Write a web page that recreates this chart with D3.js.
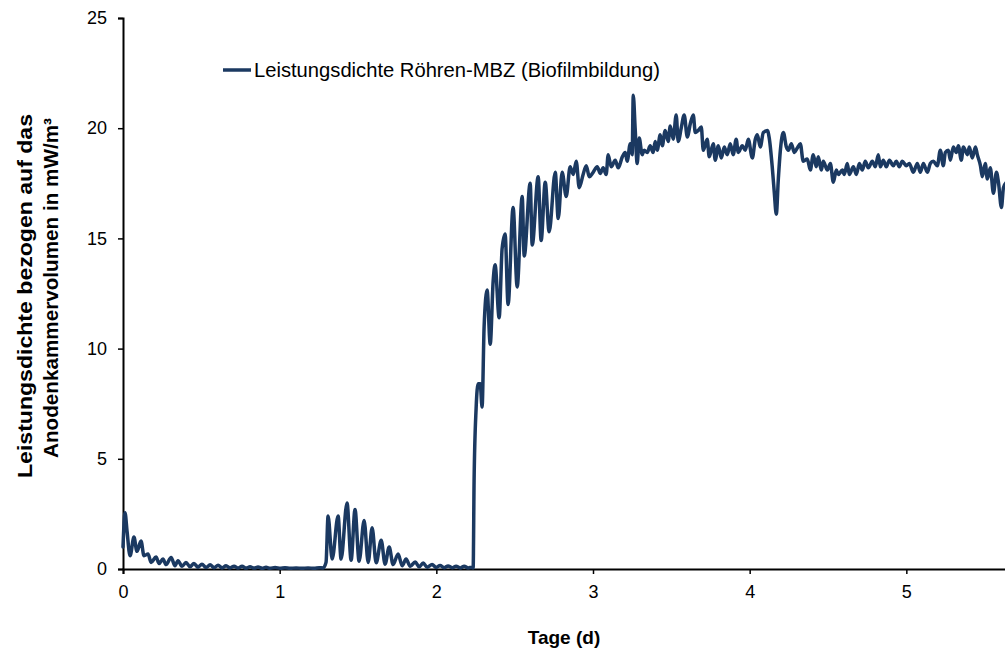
<!DOCTYPE html>
<html>
<head>
<meta charset="utf-8">
<script src="https://cdn.jsdelivr.net/npm/d3@7"></script>
<style>
  html, body { margin: 0; padding: 0; overflow: hidden; background: #fff; }
  svg { display: block; }
  text { font-family: "Liberation Sans", Arial, sans-serif; fill: #000; }
</style>
</head>
<body>
<svg id="chart" width="1005" height="650"></svg>
<script>
// Elapsed time in days
const days = [
  0.000, 0.013, 0.026, 0.045, 0.070, 0.089, 0.115, 0.134, 0.160, 0.179,
  0.211, 0.230, 0.255, 0.275, 0.307, 0.332, 0.351, 0.377, 0.402, 0.428,
  0.453, 0.479, 0.504, 0.530, 0.556, 0.581, 0.607, 0.632, 0.658, 0.683,
  0.709, 0.734, 0.760, 0.785, 0.811, 0.837, 0.862, 0.888, 0.913, 0.939,
  0.971, 1.003, 1.034, 1.066, 1.105, 1.143, 1.181, 1.220, 1.252, 1.277,
  1.296, 1.309, 1.335, 1.373, 1.392, 1.430, 1.456, 1.481, 1.507, 1.539,
  1.565, 1.590, 1.616, 1.648, 1.673, 1.699, 1.724, 1.756, 1.782, 1.807,
  1.833, 1.865, 1.890, 1.916, 1.941, 1.973, 1.999, 2.024, 2.050, 2.075,
  2.101, 2.126, 2.152, 2.178, 2.203, 2.229, 2.235,
  2.241, 2.254, 2.267, 2.280, 2.292, 2.305, 2.324, 2.344, 2.363, 2.375,
  2.401, 2.420, 2.439, 2.458, 2.490, 2.516, 2.548, 2.561, 2.599, 2.612,
  2.650, 2.669, 2.695, 2.720, 2.759, 2.778, 2.803, 2.829, 2.854, 2.874,
  2.893, 2.912, 2.937, 2.957, 2.976,
  3.001, 3.027, 3.046, 3.065, 3.084, 3.097, 3.116, 3.142, 3.161, 3.187,
  3.206, 3.218, 3.238, 3.250, 3.257, 3.269, 3.282, 3.295, 3.314, 3.327,
  3.346, 3.365, 3.384, 3.397, 3.410, 3.429, 3.442, 3.461, 3.480, 3.493,
  3.512, 3.531, 3.544, 3.563, 3.582, 3.602, 3.621, 3.640, 3.653, 3.672,
  3.691, 3.704, 3.729, 3.742, 3.768, 3.780, 3.800, 3.819, 3.838, 3.857,
  3.876, 3.895, 3.914, 3.927, 3.953, 3.972, 3.991,
  4.017, 4.036, 4.049, 4.068, 4.087, 4.113, 4.125, 4.144, 4.157, 4.170,
  4.183, 4.196, 4.215, 4.234, 4.247, 4.266, 4.285, 4.304, 4.323, 4.342,
  4.368, 4.387, 4.406, 4.425, 4.438, 4.457, 4.470, 4.496, 4.515, 4.534,
  4.553, 4.566, 4.592, 4.604, 4.623, 4.636, 4.662, 4.681, 4.700, 4.719,
  4.738, 4.757, 4.783, 4.802, 4.821,
  4.834, 4.853, 4.872, 4.892, 4.917, 4.936, 4.955, 4.974, 5.000, 5.019,
  5.045, 5.070, 5.089, 5.109, 5.134, 5.153, 5.172, 5.198, 5.217, 5.236,
  5.249, 5.268, 5.281, 5.300, 5.319, 5.332, 5.351, 5.364, 5.390, 5.402,
  5.421, 5.441, 5.453, 5.473, 5.485, 5.504, 5.517, 5.536, 5.556, 5.575,
  5.588, 5.607, 5.620, 5.640
];

// Power density relative to anode chamber volume, mW/m³
const power = [
  1.00, 2.55, 1.70, 0.60, 1.45, 0.80, 1.27, 0.60, 0.68, 0.30,
  0.54, 0.25, 0.45, 0.20, 0.52, 0.15, 0.38, 0.12, 0.30, 0.10,
  0.25, 0.08, 0.22, 0.07, 0.19, 0.06, 0.17, 0.05, 0.15, 0.05,
  0.13, 0.04, 0.12, 0.04, 0.10, 0.04, 0.09, 0.03, 0.08, 0.03,
  0.07, 0.03, 0.06, 0.03, 0.05, 0.03, 0.05, 0.03, 0.06, 0.05,
  0.30, 2.40, 0.45, 2.40, 0.45, 3.00, 0.40, 2.70, 0.35, 2.20,
  0.30, 1.87, 0.28, 1.30, 0.22, 1.00, 0.20, 0.68, 0.15, 0.45,
  0.12, 0.32, 0.10, 0.27, 0.08, 0.20, 0.07, 0.16, 0.06, 0.14,
  0.06, 0.13, 0.05, 0.12, 0.05, 0.08, 0.05,
  4.00, 7.30, 8.40, 8.40, 7.35, 11.00, 12.66, 10.20, 13.10, 13.80,
  11.40, 14.55, 15.20, 12.00, 16.40, 12.80, 16.90, 14.20, 17.50, 14.70,
  17.80, 14.90, 17.55, 15.30, 18.00, 15.90, 18.00, 16.90, 18.25, 17.90,
  18.50, 17.30, 17.90, 18.30, 17.80,
  18.00, 18.25, 17.95, 18.20, 17.90, 18.80, 18.25, 18.55, 18.20, 18.70,
  18.90, 18.50, 19.30, 18.80, 21.50, 20.00, 18.40, 19.55, 18.80, 19.00,
  18.90, 19.20, 18.90, 19.40, 19.00, 19.70, 19.20, 19.90, 19.40, 20.10,
  19.50, 20.60, 19.40, 20.00, 20.60, 19.60, 20.20, 20.60, 19.80, 19.90,
  20.05, 19.00, 19.50, 18.70, 19.30, 18.55, 19.20, 18.65, 19.15, 18.80,
  19.30, 18.80, 19.50, 18.90, 19.20, 19.00, 19.50,
  18.65, 19.50, 19.70, 19.15, 19.80, 19.90, 19.55, 18.25, 17.10, 16.10,
  17.70, 19.00, 19.80, 19.15, 19.00, 19.30, 18.90, 19.10, 19.30, 18.50,
  18.60, 18.10, 18.80, 18.25, 18.70, 18.10, 18.50, 18.10, 18.40, 17.55,
  18.10, 17.90, 18.10, 17.90, 18.40, 17.90, 18.25, 17.90, 18.40, 18.10,
  18.50, 18.20, 18.50, 18.25, 18.80,
  18.25, 18.55, 18.25, 18.55, 18.30, 18.50, 18.25, 18.50, 18.30, 18.40,
  18.00, 18.40, 18.00, 18.40, 18.00, 18.40, 18.50, 18.30, 19.00, 18.30,
  18.90, 19.00, 18.55, 19.15, 18.90, 19.20, 18.55, 19.15, 18.80, 19.15,
  18.65, 19.15, 18.80, 18.30, 17.80, 18.40, 17.70, 18.20, 17.05, 18.00,
  17.55, 16.40, 17.30, 17.55
];

const xTicks = [0, 1, 2, 3, 4, 5];
const yTicks = [0, 5, 10, 15, 20, 25];

const seriesName = "Leistungsdichte Röhren-MBZ (Biofilmbildung)";
const xTitle = "Tage (d)";
const yTitleLines = ["Leistungsdichte bezogen auf das", "Anodenkammervolumen in mW/m³"];

const lineColor = "#1b3961";

const svg = d3.select("#chart");

const x = d3.scaleLinear().domain([0, 6]).range([123, 1063]);
const y = d3.scaleLinear().domain([0, 25]).range([569, 18]);

// Axes
const xAxis = svg.append("g")
  .attr("transform", `translate(0,${y(0)})`)
  .call(d3.axisBottom(x).tickValues(xTicks).tickSize(5).tickPadding(11).tickFormat(d3.format("d")));

const yAxis = svg.append("g")
  .attr("transform", `translate(${x(0)},0)`)
  .call(d3.axisLeft(y).tickValues(yTicks).tickSize(5).tickPadding(11).tickFormat(d3.format("d")));

[xAxis, yAxis].forEach(g => {
  g.select(".domain").attr("stroke", "#000").attr("stroke-width", 2);
  g.selectAll(".tick line").attr("stroke", "#000").attr("stroke-width", 1.5);
  g.selectAll(".tick text")
    .attr("fill", "#000")
    .style("font-size", "18px")
    .style("font-family", "'Liberation Sans', Arial, sans-serif");
});

// Data line
const points = days.map((d, i) => [d, power[i]]);
const line = d3.line()
  .x(d => x(d[0]))
  .y(d => y(d[1]))
  .curve(d3.curveMonotoneX);

svg.append("path")
  .datum(points)
  .attr("fill", "none")
  .attr("stroke", lineColor)
  .attr("stroke-width", 3.5)
  .attr("stroke-linejoin", "round")
  .attr("stroke-linecap", "round")
  .attr("d", line);

// Legend
svg.append("line")
  .attr("x1", 223).attr("x2", 251)
  .attr("y1", 70).attr("y2", 70)
  .attr("stroke", lineColor)
  .attr("stroke-width", 3.5);

svg.append("text")
  .attr("x", 254)
  .attr("y", 77)
  .attr("textLength", 406)
  .attr("lengthAdjust", "spacingAndGlyphs")
  .style("font-size", "20px")
  .text(seriesName);

// Axis titles
svg.append("text")
  .attr("x", 564)
  .attr("y", 644)
  .attr("text-anchor", "middle")
  .style("font-size", "19px")
  .style("font-weight", "bold")
  .text(xTitle);

const yTitle = svg.append("g");
yTitle.append("text")
  .attr("transform", "translate(32,296) rotate(-90)")
  .attr("text-anchor", "middle")
  .attr("textLength", 364)
  .attr("lengthAdjust", "spacingAndGlyphs")
  .style("font-size", "20px")
  .style("font-weight", "bold")
  .text(yTitleLines[0]);
yTitle.append("text")
  .attr("transform", "translate(58,288) rotate(-90)")
  .attr("text-anchor", "middle")
  .attr("textLength", 340)
  .attr("lengthAdjust", "spacingAndGlyphs")
  .style("font-size", "20px")
  .style("font-weight", "bold")
  .text(yTitleLines[1]);
</script>
</body>
</html>
